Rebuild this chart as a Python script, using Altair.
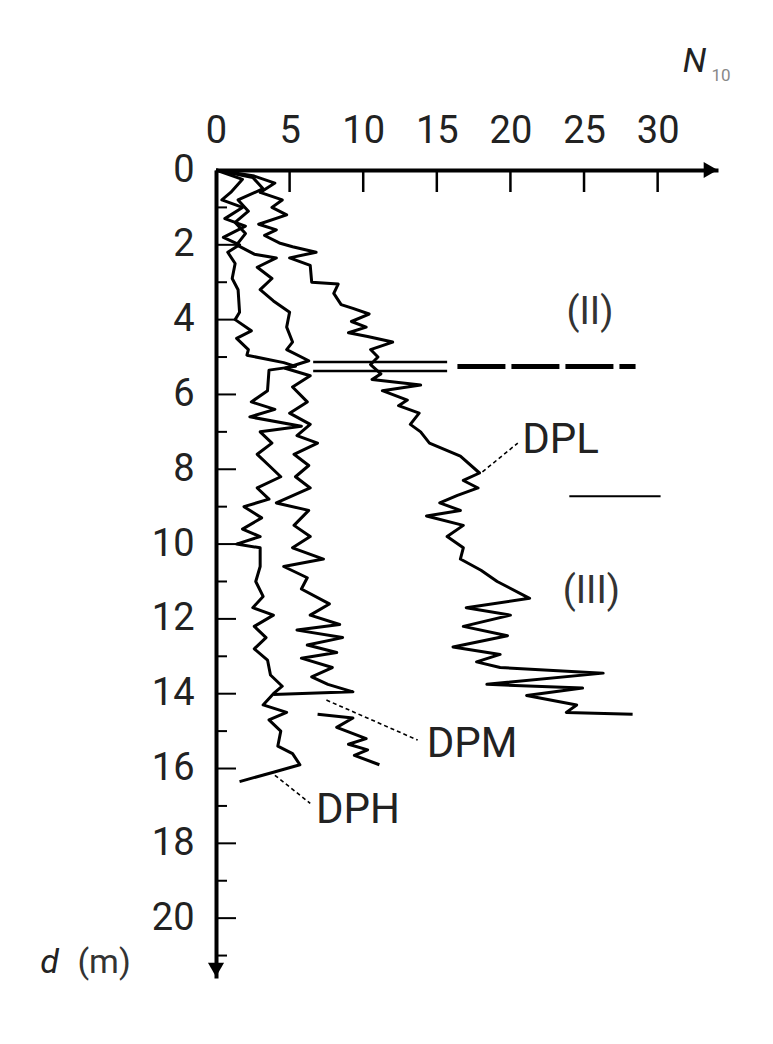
import altair as alt
import pandas as pd

# ---------------- data ----------------
X_TICKS = [0, 5, 10, 15, 20, 25, 30]
D_TICKS_MAJOR = [0, 2, 4, 6, 8, 10, 12, 14, 16, 18, 20]
D_TICKS_MINOR = [1, 3, 5, 7, 9, 11, 13, 15, 17, 19, 21]

DPL_X = [0, 2.5, 4.0, 3.0, 4.5, 3.8, 4.8, 2.9, 4.1, 3.3, 4.3, 5.2, 6.8, 5.0, 6.4, 6.5, 8.3, 8.0, 8.5, 9.3,
         10.4, 9.2, 10.2, 9.0, 10.3, 12.0, 10.5, 11.0, 10.5, 11.2, 10.6, 13.9, 11.3, 13.0, 12.4, 13.8, 13.2, 13.9, 14.5, 16.6,
         17.9, 16.8, 17.8, 16.4, 15.2, 16.6, 14.3, 16.8, 15.7, 16.8, 16.6, 18.0, 19.1, 21.3, 17.0, 20.0, 16.8, 19.8, 16.1, 19.3,
         17.7, 19.3, 26.3, 18.4, 24.9, 21.1, 24.5, 23.8, 28.3]
DPL_D = [0, 0.15, 0.35, 0.6, 0.8, 1.0, 1.2, 1.45, 1.6, 1.75, 1.95, 2.05, 2.2, 2.35, 2.55, 3.0, 3.05, 3.3, 3.6, 3.7,
         3.85, 4.05, 4.2, 4.35, 4.45, 4.6, 4.8, 5.0, 5.2, 5.45, 5.6, 5.75, 5.9, 6.15, 6.3, 6.5, 6.8, 7.0, 7.3, 7.65,
         8.1, 8.3, 8.5, 8.7, 8.9, 9.1, 9.25, 9.5, 9.8, 10.1, 10.4, 10.7, 11.0, 11.45, 11.7, 11.9, 12.2, 12.45, 12.75, 12.95,
         13.15, 13.3, 13.45, 13.75, 13.85, 14.05, 14.3, 14.5, 14.55]

DPM_X = [0, 2.5, 3.2, 1.5, 2.2, 1.3, 2.0, 1.4, 2.6, 4.1, 2.8, 3.8, 3.0, 3.9, 5.0, 4.8, 5.2, 4.8, 6.3, 4.7,
         6.4, 5.2, 6.2, 5.0, 6.4, 5.5, 6.9, 5.3, 6.3, 5.4, 6.4, 4.1, 6.3, 5.3, 6.4, 5.2, 7.3, 4.6, 6.2, 5.8,
         7.7, 6.4, 8.4, 5.5, 8.6, 6.2, 8.2, 5.8, 7.9, 6.5, 7.6, 9.3, 3.9]
DPM_D = [0, 0.2, 0.5, 0.8, 1.1, 1.4, 1.7, 2.0, 2.25, 2.35, 2.6, 2.9, 3.2, 3.5, 3.8, 4.2, 4.6, 4.8, 5.1, 5.3,
         5.5, 5.8, 6.2, 6.5, 6.8, 7.1, 7.3, 7.6, 7.9, 8.2, 8.5, 8.9, 9.1, 9.5, 9.8, 10.1, 10.4, 10.6, 10.9, 11.2,
         11.6, 11.9, 12.15, 12.3, 12.5, 12.7, 12.9, 13.05, 13.3, 13.55, 13.75, 13.95, 14.02]
DPM2_X = [6.9, 9.3, 8.2, 10.2, 9.0, 10.3, 9.4, 11.1]
DPM2_D = [14.55, 14.65, 14.9, 15.2, 15.35, 15.5, 15.65, 15.9]

DPH_X = [0, 1.8, 1.0, 0.4, 1.8, 0.6, 2.0, 0.5, 1.6, 0.8, 1.3, 1.1, 1.5, 1.6, 1.3, 2.4, 1.4, 2.2, 2.1, 4.6,
         5.4, 3.6, 3.5, 2.4, 4.0, 2.3, 5.8, 3.0, 3.8, 2.8, 3.6, 4.4, 2.8, 3.6, 1.9, 3.1, 1.8, 3.0, 1.4, 3.0,
         3.0, 2.7, 3.2, 2.5, 3.9, 2.6, 3.4, 2.6, 3.5, 3.7, 4.5, 3.9, 3.2, 4.8, 3.6, 4.4, 4.2, 5.2, 5.7, 3.9, 1.6]
DPH_D = [0, 0.25, 0.6, 0.8, 1.0, 1.3, 1.5, 1.8, 2.0, 2.2, 2.5, 2.9, 3.2, 3.8, 4.0, 4.3, 4.5, 4.8, 4.95, 5.15,
         5.25, 5.35, 5.9, 6.2, 6.4, 6.6, 6.85, 7.0, 7.3, 7.6, 7.9, 8.2, 8.5, 8.8, 9.0, 9.3, 9.6, 9.8, 10.0, 10.1,
         10.6, 11.0, 11.4, 11.7, 11.9, 12.2, 12.5, 12.8, 13.1, 13.5, 13.8, 14.0, 14.3, 14.5, 14.7, 15.0, 15.4, 15.6, 15.9, 16.1, 16.35]

# layer boundaries
DOUBLE_X1 = [6.6, 6.6]
DOUBLE_X2 = [15.7, 15.7]
DOUBLE_D = [5.13, 5.37]
THICK_X1 = [16.4]
THICK_X2 = [28.5]
THICK_D = [5.25]
SEP_X1 = [24.0]
SEP_X2 = [30.2]
SEP_D = [8.72]

# leader lines
LEAD_X1 = [18.1, 7.5, 4.0]
LEAD_D1 = [8.07, 14.17, 16.18]
LEAD_X2 = [20.5, 13.7, 6.4]
LEAD_D2 = [7.3, 15.24, 16.93]

CURVE_LABELS = ["DPL", "DPM", "DPH"]
CURVE_LX = [23.4, 17.4, 9.65]
CURVE_LD = [7.22, 15.35, 17.1]
ZONE_LABELS = ["(II)", "(III)"]
ZONE_LX = [25.4, 25.5]
ZONE_LD = [3.82, 11.28]

X_DOMAIN = [0, 34.1]
D_DOMAIN = [0, 21.6]

FONT = "Roboto"

# ---------------- build tables ----------------
rows = []
def add(name, xs, ds):
    for i, (x, d) in enumerate(zip(xs, ds)):
        rows.append({"series": name, "i": i, "x": x, "d": d})

add("DPL", DPL_X, DPL_D)
add("DPM", DPM_X, DPM_D)
add("DPM2", DPM2_X, DPM2_D)
add("DPH", DPH_X, DPH_D)
curves = pd.DataFrame(rows)

xs = alt.Scale(domain=X_DOMAIN, nice=False, zero=False)
ys = alt.Scale(domain=D_DOMAIN, reverse=True, nice=False, zero=False)

axis_x = alt.Axis(orient="top", values=X_TICKS, ticks=False, domain=True, domainWidth=4,
                  domainColor="black", labelFontSize=38, labelFont=FONT, labelPadding=20,
                  labelColor="#222", grid=False, title=None, labelFlush=False, labelOverlap=False)
axis_y = alt.Axis(orient="left", values=D_TICKS_MAJOR, ticks=False, domain=True, domainWidth=4,
                  domainColor="black", labelFontSize=38, labelFont=FONT, labelPadding=22,
                  labelColor="#222", grid=False, title=None, labelFlush=False, labelOverlap=False)

lines = alt.Chart(curves).mark_line(color="black", strokeWidth=3, strokeJoin="round").encode(
    x=alt.X("x:Q", scale=xs, axis=axis_x),
    y=alt.Y("d:Q", scale=ys, axis=axis_y),
    detail="series:N",
    order="i:Q",
)

xt = pd.DataFrame({"x": X_TICKS[1:]})
xticks = alt.Chart(xt).mark_rule(color="black", strokeWidth=2.5).encode(
    x=alt.X("x:Q", scale=xs, axis=None), y=alt.value(0), y2=alt.value(22))

ytM = pd.DataFrame({"d": D_TICKS_MAJOR[1:]})
ytm = pd.DataFrame({"d": D_TICKS_MINOR})
yticksM = alt.Chart(ytM).mark_rule(color="black", strokeWidth=2).encode(
    y=alt.Y("d:Q", scale=ys, axis=None), x=alt.value(0), x2=alt.value(20))
yticksm = alt.Chart(ytm).mark_rule(color="black", strokeWidth=2).encode(
    y=alt.Y("d:Q", scale=ys, axis=None), x=alt.value(0), x2=alt.value(11))

arr_r = alt.Chart(pd.DataFrame({"x": [X_DOMAIN[1] - 0.5], "d": [0]})).mark_point(
    shape="triangle-right", filled=True, size=260, color="black", opacity=1).encode(
    x=alt.X("x:Q", scale=xs, axis=None), y=alt.Y("d:Q", scale=ys, axis=None))
arr_d = alt.Chart(pd.DataFrame({"x": [0], "d": [D_DOMAIN[1] - 0.22]})).mark_point(
    shape="triangle-down", filled=True, size=260, color="black", opacity=1).encode(
    x=alt.X("x:Q", scale=xs, axis=None), y=alt.Y("d:Q", scale=ys, axis=None))

dbl = alt.Chart(pd.DataFrame({"x": DOUBLE_X1, "x2": DOUBLE_X2, "d": DOUBLE_D})).mark_rule(
    color="black", strokeWidth=2.5).encode(
    x=alt.X("x:Q", scale=xs, axis=None), x2="x2:Q", y=alt.Y("d:Q", scale=ys, axis=None))
thick = alt.Chart(pd.DataFrame({"x": THICK_X1, "x2": THICK_X2, "d": THICK_D})).mark_rule(
    color="black", strokeWidth=5, strokeDash=[48, 6]).encode(
    x=alt.X("x:Q", scale=xs, axis=None), x2="x2:Q", y=alt.Y("d:Q", scale=ys, axis=None))
sep = alt.Chart(pd.DataFrame({"x": SEP_X1, "x2": SEP_X2, "d": SEP_D})).mark_rule(
    color="black", strokeWidth=2).encode(
    x=alt.X("x:Q", scale=xs, axis=None), x2="x2:Q", y=alt.Y("d:Q", scale=ys, axis=None))

leads = alt.Chart(pd.DataFrame({"x": LEAD_X1, "x2": LEAD_X2, "d": LEAD_D1, "d2": LEAD_D2})).mark_rule(
    color="black", strokeWidth=1.6, strokeDash=[4, 3]).encode(
    x=alt.X("x:Q", scale=xs, axis=None), x2="x2:Q",
    y=alt.Y("d:Q", scale=ys, axis=None), y2="d2:Q")

clabels = alt.Chart(pd.DataFrame({"t": CURVE_LABELS, "x": CURVE_LX, "d": CURVE_LD})).mark_text(
    font=FONT, fontSize=42, color="#222", align="center", baseline="middle").encode(
    x=alt.X("x:Q", scale=xs, axis=None), y=alt.Y("d:Q", scale=ys, axis=None), text="t:N")
zlabels = alt.Chart(pd.DataFrame({"t": ZONE_LABELS, "x": ZONE_LX, "d": ZONE_LD})).mark_text(
    font=FONT, fontSize=38, color="#333", align="center", baseline="middle").encode(
    x=alt.X("x:Q", scale=xs, axis=None), y=alt.Y("d:Q", scale=ys, axis=None), text="t:N")

nlab = alt.Chart(pd.DataFrame({"t": ["N"], "x": [32.5], "d": [-2.9]})).mark_text(
    font=FONT, fontSize=34, fontStyle="italic", color="#222",
    align="center", baseline="middle").encode(
    x=alt.X("x:Q", scale=xs, axis=None), y=alt.Y("d:Q", scale=ys, axis=None), text="t:N")
nsub = alt.Chart(pd.DataFrame({"t": ["10"], "x": [34.3], "d": [-2.5]})).mark_text(
    font=FONT, fontSize=17, color="#888", align="center", baseline="middle").encode(
    x=alt.X("x:Q", scale=xs, axis=None), y=alt.Y("d:Q", scale=ys, axis=None), text="t:N")
dlab = alt.Chart(pd.DataFrame({"t": ["d"], "x": [-11.3], "d": [21.2]})).mark_text(
    font=FONT, fontSize=34, fontStyle="italic", color="#222",
    align="center", baseline="middle").encode(
    x=alt.X("x:Q", scale=xs, axis=None), y=alt.Y("d:Q", scale=ys, axis=None), text="t:N")
mlab = alt.Chart(pd.DataFrame({"t": ["(m)"], "x": [-7.6], "d": [21.2]})).mark_text(
    font=FONT, fontSize=34, color="#333", align="center", baseline="middle").encode(
    x=alt.X("x:Q", scale=xs, axis=None), y=alt.Y("d:Q", scale=ys, axis=None), text="t:N")

chart = alt.layer(
    lines, xticks, yticksM, yticksm, arr_r, arr_d, dbl, thick, sep, leads,
    clabels, zlabels, nlab, nsub, dlab, mlab
).resolve_axis(x="independent", y="independent").properties(
    width=502, height=808,
    padding={"left": 208, "top": 162, "right": 40, "bottom": 58},
    autosize="none",
    background="white",
).configure_view(stroke=None)

chart.save("out.html", embed_options={"renderer": "svg", "actions": False})
